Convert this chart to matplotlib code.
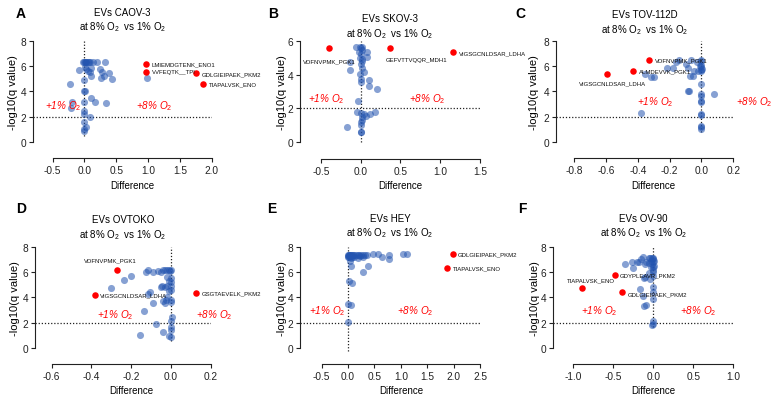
import matplotlib.pyplot as plt
from matplotlib.ticker import FormatStrFormatter

plt.rcParams['font.family'] = ['Liberation Sans', 'DejaVu Sans']
plt.rcParams['mathtext.fontset'] = 'custom'
plt.rcParams['mathtext.rm'] = 'Liberation Sans'
plt.rcParams['mathtext.it'] = 'Liberation Sans:italic'
plt.rcParams['axes.unicode_minus'] = False

# ---- panel A : CAOV-3
a_x = [-0.02, 0.0, 0.01, 0.02, 0.03, 0.05, 0.07, 0.09, 0.14, 0.19, 0.33,
       -0.08, 0.01, 0.03, 0.06, 0.09, 0.11, 0.24, 0.27, 0.39, 0.3,
       0.26, 0.43, 0.11, 0.0, -0.23, 0.0, 0.01, -0.2, -0.22, 0.0,
       0.11, 0.17, 0.34, 0.0, 0.0, 0.09, 0.0, 0.03, 0.0, 0.0, 0.98]
a_y = [6.35, 6.35, 6.3, 6.35, 6.3, 6.35, 6.3, 6.35, 6.35, 6.35, 6.35,
       5.7, 5.9, 5.75, 5.65, 5.5, 5.85, 5.77, 5.5, 5.46, 5.25,
       5.07, 4.99, 5.25, 4.9, 4.59, 4.07, 4.0, 3.2, 2.7, 3.15,
       3.46, 3.15, 3.1, 2.5, 2.23, 2.0, 1.57, 1.18, 1.05, 0.92, 5.1]
a_hx = [0.97, 0.97, 1.76, 1.87]
a_hy = [6.2, 5.55, 5.43, 4.6]
a_lab = ['LMIEMDGTENK_ENO1', 'VVFEQTK__TPI', 'GDLGIEIPAEK_PKM2', 'TIAPALVSK_ENO']

# ---- panel B : SKOV-3
b_x = [-0.01, 0.0, 0.01, 0.02, -0.02, 0.0, -0.06, 0.075, 0.08, 0.02,
       -0.14, -0.14, 0.0, 0.01, 0.04, -0.01, 0.0, 0.0, 0.11, 0.11,
       0.21, -0.03, -0.05, 0.0, 0.04, 0.06, 0.12, 0.18, 0.01, 0.02,
       0.0, 0.0, -0.17, 0.0, 0.0, -0.01, 0.01]
b_y = [5.6, 5.55, 5.45, 5.6, 5.35, 5.2, 5.6, 5.35, 5.06, 4.8,
       4.72, 4.27, 4.6, 4.4, 4.17, 4.03, 3.74, 3.58, 3.68, 3.3,
       3.15, 2.46, 1.77, 1.71, 1.67, 1.57, 1.67, 1.77, 1.48, 1.34,
       1.18, 1.02, 0.93, 0.63, 0.6, 5.0, 4.9]
b_hx = [-0.40, 0.365, 1.165]
b_hy = [5.57, 5.57, 5.31]
b_lab = ['VDFNVPMK_PGK1', 'GEFVTTVQQR_MDH1', 'VIGSGCNLDSAR_LDHA']

# ---- panel C : TOV-112D
c_x = [-0.38, -0.358, -0.317, -0.296, -0.22, -0.18, -0.16, -0.14, -0.10, -0.088,
       -0.073, -0.056, -0.067, -0.046, -0.025, -0.01, 0.0, 0.0, 0.0, 0.0,
       0.0, -0.087, -0.08, 0.0, 0.0, 0.0, 0.0, 0.0, 0.0, 0.0,
       0.0, 0.0, 0.08, -0.03, -0.005, 0.005, 0.0]
c_y = [2.3, 5.38, 5.17, 5.12, 5.85, 5.83, 6.3, 6.48, 6.2, 5.85,
       5.25, 5.2, 6.48, 5.64, 5.64, 6.0, 6.4, 6.1, 5.9, 5.7,
       5.6, 4.0, 4.07, 4.6, 3.8, 3.67, 3.28, 3.15, 2.23, 2.15,
       1.3, 1.05, 3.8, 6.3, 6.45, 5.8, 1.18]
c_hx = [-0.327, -0.431, -0.594]
c_hy = [6.46, 5.64, 5.35]
c_lab = ['VDFNVPMK_PGK1', 'ALMDEVVK_PGK1', 'VIGSGCNLDSAR_LDHA']

# ---- panel D : OVTOKO
d_x = [-0.2, -0.3, -0.238, -0.125, -0.113, -0.092, -0.067, -0.052, -0.04, -0.03,
       -0.02, -0.01, 0.0, -0.005, -0.02, -0.008, -0.02, -0.045, 0.0, 0.0,
       -0.105, -0.117, -0.022, -0.04, 0.0, -0.012, -0.05, -0.028, 0.0, -0.138,
       -0.092, -0.03, -0.025, 0.0, 0.005, 0.0, 0.0, 0.0, -0.075, -0.158,
       -0.042, -0.012, 0.0, 0.0]
d_y = [5.72, 4.75, 5.4, 6.04, 6.2, 6.04, 6.1, 6.04, 6.2, 6.2,
       6.2, 6.2, 6.2, 6.1, 5.6, 5.33, 4.88, 4.93, 4.6, 4.88,
       4.41, 4.28, 4.07, 3.75, 3.8, 4.54, 4.86, 4.86, 5.5, 2.97,
       3.54, 3.57, 3.8, 3.67, 2.44, 2.18, 1.7, 1.44, 1.89, 1.05,
       1.26, 1.0, 0.87, 5.2]
d_hx = [-0.272, -0.383, 0.128]
d_hy = [6.19, 4.2, 4.36]
d_lab = ['VDFNVPMK_PGK1', 'VIGSGCNLDSAR_LDHA', 'GSGTAEVELK_PKM2']

# ---- panel E : HEY
e_x = [0.0, 0.005, 0.01, 0.02, 0.03, 0.04, 0.05, 0.06, 0.08, 0.1,
       0.12, 0.15, 0.18, 0.2, 0.22, 0.25, 0.28, 0.32, 0.36,
       0.0, 0.02, 0.05, 0.08, 0.12, 0.18, 0.28,
       0.47, 0.56, 0.64, 0.77, 0.77, 1.04, 1.12,
       0.375, 0.28, 0.06, 0.044, 0.01, 0.075, 0.0, 0.06, 0.0]
e_y = [7.35, 7.3, 7.38, 7.35, 7.3, 7.38, 7.35, 7.3, 7.35, 7.38,
       7.35, 7.35, 7.38, 7.35, 7.3, 7.38, 7.35, 7.38, 7.35,
       7.15, 7.2, 7.1, 7.2, 7.15, 7.1, 7.2,
       7.43, 7.43, 7.2, 7.38, 7.03, 7.43, 7.43,
       6.5, 5.98, 6.5, 6.85, 5.33, 5.12, 3.5, 3.38, 2.05]
e_hx = [1.98, 1.875]
e_hy = [7.43, 6.3]
e_lab = ['GDLGIEIPAEK_PKM2', 'TIAPALVSK_ENO']

# ---- panel F : OV-90
f_x = [-0.354, -0.27, -0.26, -0.175, -0.154, -0.125, -0.104, -0.09, -0.06, -0.04,
       -0.03, -0.02, -0.01, 0.0, 0.01, -0.05, -0.02, 0.0, 0.01, -0.03,
       0.0, -0.06, -0.1, -0.04, 0.0, -0.117, -0.167, -0.125, -0.09, -0.117,
       0.0, 0.0, 0.0, 0.0, 0.0, -0.02, 0.0, 0.0, -0.21]
f_y = [6.64, 6.77, 6.3, 6.77, 7.03, 7.17, 6.64, 6.77, 7.1, 7.1,
       6.9, 7.1, 7.0, 7.1, 6.9, 6.7, 6.6, 6.8, 6.5, 6.4,
       6.2, 5.9, 5.6, 5.46, 5.72, 5.5, 4.67, 4.15, 3.41, 3.36,
       4.8, 4.4, 3.88, 2.18, 1.9, 1.84, 6.0, 6.38, 6.82]
f_hx = [-0.896, -0.483, -0.39]
f_hy = [4.72, 5.77, 4.46]
f_lab = ['TIAPALVSK_ENO', 'GDYPLEAVR_PKM2', 'GDLGIEIPAEK_PKM2']

W, H = 780, 406
BLUE = '#2455B0'
RED = '#FF0000'

# box = (left, top, right, bottom) in pixels, offsets in points
panels = [
    dict(letter='A', name='CAOV-3', x=a_x, y=a_y, hx=a_hx, hy=a_hy, lab=a_lab,
         box=(33.3, 41.7, 211.7, 159.3), xlim=(-0.805, 2.0), xt=[-0.5, 0, 0.5, 1.0, 1.5, 2.0],
         ylim=(-1.26, 8), yt=[0, 2, 4, 6, 8], vmin=0.5, pad=8.0, ylx=-20,
         off=[(4, 0, 'left', 'center')] * 4,
         t1=(-0.33, 2.94), t8=(1.1, 2.94), lpos=(21, 14)),
    dict(letter='B', name='SKOV-3', x=b_x, y=b_y, hx=b_hx, hy=b_hy, lab=b_lab,
         box=(300, 41.7, 480, 160), xlim=(-0.764, 1.5), xt=[-0.5, 0, 0.5, 1.0, 1.5],
         ylim=(-0.99, 6), yt=[0, 2, 4, 6], vmin=0.0, pad=3.5, ylx=-18,
         off=[(0, -9, 'center', 'center'), (-3, -8, 'left', 'center'), (4, 0, 'left', 'center')],
         t1=(-0.43, 2.6), t8=(0.84, 2.6), lpos=(273, 14)),
    dict(letter='C', name='TOV-112D', x=c_x, y=c_y, hx=c_hx, hy=c_hy, lab=c_lab,
         box=(556, 41.7, 733.3, 159.3), xlim=(-0.915, 0.2), xt=[-0.8, -0.6, -0.4, -0.2, 0, 0.2],
         ylim=(-1.26, 8), yt=[0, 2, 4, 6, 8], vmin=0.8, pad=6.0, ylx=-22,
         off=[(4, 0, 'left', 'center'), (4, 0, 'left', 'center'), (4, -6, 'center', 'center')],
         t1=(-0.29, 3.28), t8=(0.33, 3.28), lpos=(520, 14)),
    dict(letter='D', name='OVTOKO', x=d_x, y=d_y, hx=d_hx, hy=d_hy, lab=d_lab,
         box=(35, 247.7, 210.7, 365), xlim=(-0.684, 0.2), xt=[-0.6, -0.4, -0.2, 0, 0.2],
         ylim=(-1.24, 8), yt=[0, 2, 4, 6, 8], vmin=0.6, pad=6.8, ylx=-20,
         off=[(-5, 7, 'center', 'center'), (4, 0, 'left', 'center'), (4, 0, 'left', 'center')],
         t1=(-0.28, 2.7), t8=(0.22, 2.7), lpos=(21, 209)),
    dict(letter='E', name='HEY', x=e_x, y=e_y, hx=e_hx, hy=e_hy, lab=e_lab,
         box=(300, 247.7, 480, 365), xlim=(-0.91, 2.5), xt=[-0.5, 0, 0.5, 1.0, 1.5, 2.0, 2.5],
         ylim=(-1.24, 8), yt=[0, 2, 4, 6, 8], vmin=-0.2, pad=8.0, ylx=-18,
         off=[(4, 0, 'left', 'center')] * 2,
         t1=(-0.39, 3.02), t8=(1.28, 3.02), lpos=(272, 209)),
    dict(letter='F', name='OV-90', x=f_x, y=f_y, hx=f_hx, hy=f_hy, lab=f_lab,
         box=(553.3, 247.7, 733.3, 365), xlim=(-1.25, 1.0), xt=[-1.0, -0.5, 0, 0.5, 1.0],
         ylim=(-1.24, 8), yt=[0, 2, 4, 6, 8], vmin=1.7, pad=8.0, ylx=-18,
         off=[(7, 6, 'center', 'center'), (4, 0, 'left', 'center'), (4, -1.5, 'left', 'center')],
         t1=(-0.67, 2.97), t8=(0.56, 2.97), lpos=(522, 209)),
]

fig = plt.figure(figsize=(W / 100, H / 100), dpi=100)

for p in panels:
    l, t, r, b = p['box']
    ax = fig.add_axes([l / W, 1 - b / H, (r - l) / W, (b - t) / H])
    ax.set_xlim(*p['xlim'])
    ax.set_ylim(*p['ylim'])
    top = p['yt'][-1]

    ax.plot([0, 0], [p['vmin'], top], ls=(0, (1, 1.5)), color='#222222', lw=0.9, zorder=1)
    ax.plot(p['xlim'], [2, 2], ls=(0, (1, 1.5)), color='#222222', lw=0.9, zorder=1)

    ax.scatter(p['x'], p['y'], s=26, color=BLUE, alpha=0.55, lw=0, zorder=2, clip_on=False)
    ax.scatter(p['hx'], p['hy'], s=22, color=RED, lw=0, zorder=3, clip_on=False)
    for hx, hy, lab, (dx, dy, ha, va) in zip(p['hx'], p['hy'], p['lab'], p['off']):
        ax.annotate(lab, (hx, hy), xytext=(dx, dy), textcoords='offset points',
                    fontsize=4.3, ha=ha, va=va, color='#111111', annotation_clip=False, zorder=4)

    ax.text(*p['t1'], r'+1% O$_{\mathit{2}}$', color=RED, style='italic', fontsize=7.2,
            ha='center', va='center', clip_on=False)
    ax.text(*p['t8'], r'+8% O$_{\mathit{2}}$', color=RED, style='italic', fontsize=7.2,
            ha='center', va='center', clip_on=False)

    for s in ['top', 'right']:
        ax.spines[s].set_visible(False)
    for s in ['left', 'bottom']:
        ax.spines[s].set_linewidth(0.8)
        ax.spines[s].set_color('#222222')
    ax.spines['left'].set_bounds(0, top)
    ax.spines['bottom'].set_bounds(p['xt'][0], p['xt'][-1])
    ax.set_xticks(p['xt'])
    ax.set_yticks(p['yt'])
    ax.xaxis.set_major_formatter(FormatStrFormatter('%.1f'))
    ax.tick_params(direction='out', length=3, width=0.8, labelsize=7.3, pad=2, colors='#222222')

    ax.set_title('EVs ' + p['name'] + '\nat 8% O$_2$  vs 1% O$_2$', fontsize=7, pad=p['pad'],
                 linespacing=1.3)
    ax.set_xlabel('Difference', fontsize=7)
    ax.set_ylabel('-log10(q value)', fontsize=8)
    x0, x1 = p['xlim']
    xc = ((p['xt'][0] + p['xt'][-1]) / 2 - x0) / (x1 - x0)
    ax.xaxis.set_label_coords(xc, -21.5 / (b - t))
    y0, y1 = p['ylim']
    ax.yaxis.set_label_coords((p['ylx'] + 5) / (r - l), (top / 2 - y0) / (y1 - y0))

    fig.text(p['lpos'][0] / W, 1 - p['lpos'][1] / H, p['letter'], fontsize=10, fontweight='bold',
             ha='center', va='center')

fig.savefig('out.png', dpi=100)
